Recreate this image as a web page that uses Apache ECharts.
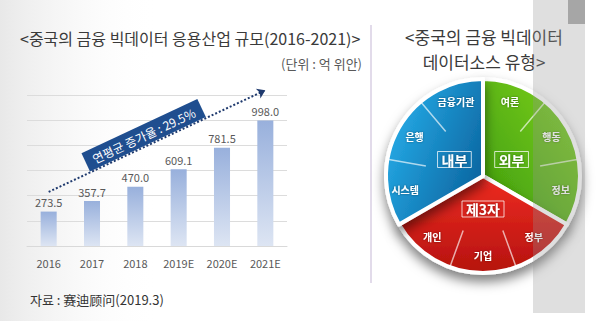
<!DOCTYPE html>
<html><head><meta charset="utf-8">
<script src="https://cdn.jsdelivr.net/npm/echarts@6/dist/echarts.min.js"></script>
<style>html,body{margin:0;padding:0;background:#fff}#c{width:600px;height:321px}</style>
</head><body><div id="c"></div>
<script>
// ---- data ----
const years = ['2016', '2017', '2018', '2019E', '2020E', '2021E'];
const marketSize = [273.5, 357.7, 470.0, 609.1, 781.5, 998.0];
const yTicks = [0, 200, 400, 600, 800, 1000, 1200];
const cagrLabel = '연평균 증가율 : 29.5%';
const arrowFrom = ['2016', 430];
const arrowTo = ['2021E', 1238];
const groups = ['외부', '제3자', '내부'];
const groupShares = [3, 3, 3];
const subSources = ['여론', '행동', '정보', '정부', '기업', '개인', '시스템', '은행', '금융기관'];
const subShares = [1, 1, 1, 1, 1, 1, 1, 1, 1];
const titleLeft = '<중국의 금융 빅데이터 응용산업 규모(2016-2021)>';
const unitText = '(단위 : 억 위안)';
const sourceText = '자료 : 赛迪顾问(2019.3)';
const titleRight = ['<중국의 금융 빅데이터', '데이터소스 유형>'];

const FONT = '"Noto Sans CJK KR", "Noto Sans", sans-serif';
const PIE_C = [483, 176];
const PIE_R = 97;

const LG = echarts.graphic.LinearGradient;
const groupFill = [
  new LG(0, 1, 1, 0, [{offset: 0, color: '#3d9a0c'}, {offset: 1, color: '#80d41f'}]),
  new LG(0, 0, 0, 1, [{offset: 0, color: '#ee2b22'}, {offset: 1, color: '#b5130e'}]),
  new LG(0, 0.2, 1, 0.8, [{offset: 0, color: '#27b0ec'}, {offset: 1, color: '#0a619c'}])
];

const chart = echarts.init(document.getElementById('c'), null, {renderer: 'svg'});

chart.setOption({
  animation: false,
  textStyle: {fontFamily: FONT},
  grid: {left: 27, right: 313, top: 95, bottom: 75},
  xAxis: {
    type: 'category', data: years,
    axisLine: {lineStyle: {color: '#d9d9d9'}},
    axisTick: {show: false},
    axisLabel: {color: '#595959', fontSize: 11, margin: 11, fontFamily: FONT}
  },
  yAxis: {
    type: 'value', min: yTicks[0], max: yTicks[yTicks.length - 1], interval: yTicks[1] - yTicks[0],
    axisLabel: {show: false}, axisLine: {show: false}, axisTick: {show: false},
    splitLine: {lineStyle: {color: '#dcdcdc'}}
  },
  polar: {center: PIE_C, radius: [58, PIE_R]},
  angleAxis: {
    type: 'category', data: subSources, startAngle: 90, z: 5,
    axisLine: {show: false}, axisTick: {show: false}, axisLabel: {show: false},
    splitLine: {show: true, lineStyle: {color: 'rgba(255,255,255,0.65)', width: 1.5}}
  },
  radiusAxis: {show: false, type: 'value'},
  series: [
    {
      id: 'bars', type: 'bar', data: marketSize, barWidth: '37%',
      itemStyle: {color: new LG(0, 0, 0, 1, [{offset: 0, color: '#98b0dc'}, {offset: 1, color: '#dde5f3'}])},
      label: {show: true, position: 'top', distance: 4, color: '#595959', fontSize: 11, fontFamily: FONT,
        formatter: p => p.value.toFixed(1)}
    },
    {
      type: 'pie', center: PIE_C, radius: [0, PIE_R], startAngle: 90, silent: true, z: 2,
      label: {show: false}, labelLine: {show: false},
      data: groups.map((g, i) => ({name: g, value: groupShares[i], itemStyle: {color: groupFill[i]}})),
      itemStyle: {borderColor: '#ffffff', borderWidth: 4, shadowColor: 'rgba(0,0,0,0.5)', shadowBlur: 12, shadowOffsetY: 7}
    },
    {
      type: 'pie', center: PIE_C, radius: [55, PIE_R], startAngle: 90, silent: true, z: 6,
      itemStyle: {color: 'rgba(0,0,0,0)', borderWidth: 0},
      label: {show: true, position: 'inside', color: '#fff', fontSize: 10, fontWeight: 'bold', fontFamily: FONT,
        textShadowColor: 'rgba(0,0,0,0.45)', textShadowBlur: 2},
      labelLine: {show: false},
      data: subSources.map((s, i) => ({name: s, value: subShares[i]}))
    },
    {
      type: 'pie', center: PIE_C, radius: [0, 60], startAngle: 90, silent: true, z: 6,
      itemStyle: {color: 'rgba(0,0,0,0)', borderWidth: 0},
      label: {show: true, position: 'inside', color: '#fff', fontSize: 14, fontWeight: 'bold', fontFamily: FONT,
        borderColor: 'rgba(255,255,255,0.75)', borderWidth: 1, padding: [1, 4],
        textShadowColor: 'rgba(0,0,0,0.4)', textShadowBlur: 2},
      labelLine: {show: false},
      data: groups.map((g, i) => ({name: g, value: groupShares[i]}))
    }
  ]
});

// annotation arrow + rotated CAGR box, positioned through the chart's own scales
const p0 = chart.convertToPixel({gridIndex: 0}, [years.indexOf(arrowFrom[0]), arrowFrom[1]]);
const p1 = chart.convertToPixel({gridIndex: 0}, [years.indexOf(arrowTo[0]), arrowTo[1]]);
const dx = p1[0] - p0[0], dy = p1[1] - p0[1];
const len = Math.sqrt(dx * dx + dy * dy);
const ang = Math.atan2(-dy, dx);
const t = 0.46, off = 11;
const bx = p0[0] + dx * t + (dy / len) * off;
const by = p0[1] + dy * t - (dx / len) * off;

chart.setOption({
  series: [{
    id: 'bars',
    markLine: {
      silent: true, symbol: ['none', 'arrow'], symbolSize: 8,
      lineStyle: {type: 'dotted', color: '#1f3a6e', width: 2},
      label: {show: false},
      data: [[{x: p0[0], y: p0[1]}, {x: p1[0], y: p1[1]}]]
    }
  }],
  graphic: [
    {type: 'rect', z: -10, shape: {x: 0, y: 0, width: 160, height: 321},
      style: {fill: new LG(0, 0, 1, 0, [{offset: 0, color: 'rgba(232,232,232,1)'}, {offset: 1, color: 'rgba(255,255,255,0)'}])}},
    {type: 'text', x: 20, y: 38, style: {text: titleLeft, font: '16px ' + FONT, fill: '#3a3a3a', align: 'left', verticalAlign: 'middle', lineHeight: 18}},
    {type: 'text', x: 362, y: 63, style: {text: unitText, font: '13px ' + FONT, fill: '#595959', align: 'right', verticalAlign: 'middle', lineHeight: 15}},
    {type: 'text', x: 30, y: 299, style: {text: sourceText, font: '13px ' + FONT, fill: '#333333', align: 'left', verticalAlign: 'middle', lineHeight: 15}},
    {type: 'text', x: 484, y: 49, style: {text: titleRight.join('\n'), font: '17px ' + FONT, fill: '#3a3a3a', align: 'center', verticalAlign: 'middle', lineHeight: 25}},
    {type: 'line', shape: {x1: 371, y1: 25, x2: 371, y2: 283}, style: {stroke: '#d8cfe3', lineWidth: 1.5}},
    {type: 'text', x: bx, y: by, rotation: ang, z: 20,
      style: {text: cagrLabel, font: '12px ' + FONT, fill: '#ffffff', align: 'center', verticalAlign: 'middle',
        backgroundColor: '#1f4e8f', padding: [4, 8]}},
    {type: 'rect', z: 100, shape: {x: 533, y: 0, width: 52, height: 313}, style: {fill: 'rgba(150,150,150,0.3)'}},
    {type: 'rect', z: 101, shape: {x: 568, y: 0, width: 17, height: 24}, style: {fill: '#a6a6a6'}}
  ]
});
</script>
</body></html>
